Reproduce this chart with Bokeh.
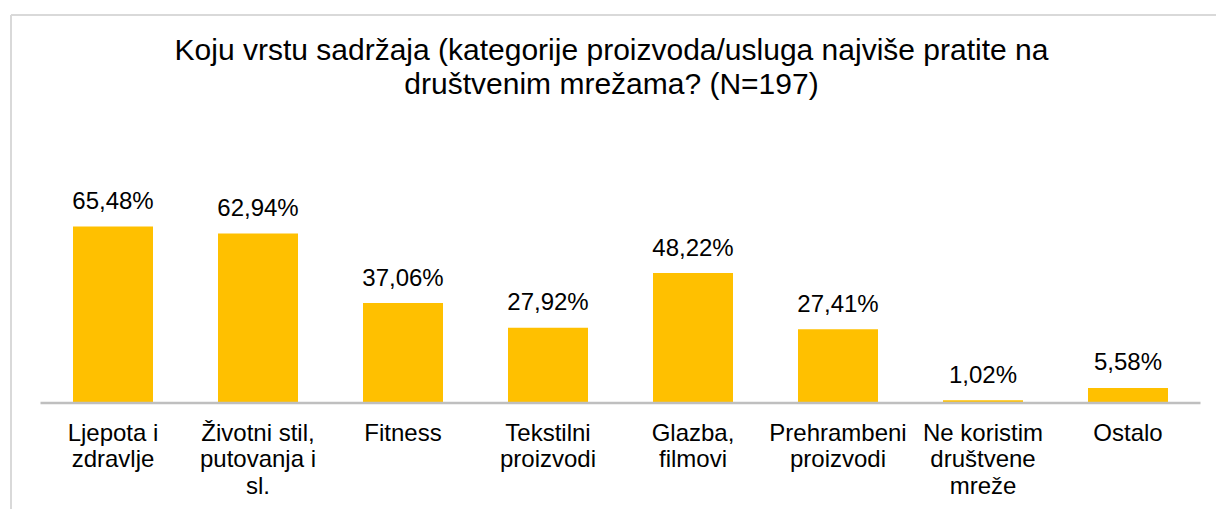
from bokeh.plotting import figure
from bokeh.models import ColumnDataSource, Range1d, Label
from bokeh.core.properties import value
from bokeh.embed import file_html
from bokeh.resources import INLINE

categories = ["Ljepota i\nzdravlje", "Životni stil,\nputovanja i\nsl.", "Fitness",
              "Tekstilni\nproizvodi", "Glazba,\nfilmovi", "Prehrambeni\nproizvodi",
              "Ne koristim\ndruštvene\nmreže", "Ostalo"]
values = [65.48, 62.94, 37.06, 27.92, 48.22, 27.41, 1.02, 5.58]
value_labels = ["65,48%", "62,94%", "37,06%", "27,92%", "48,22%", "27,41%", "1,02%", "5,58%"]
title_lines = ["Koju vrstu sadržaja (kategorije proizvoda/usluga najviše pratite na",
               "društvenim mrežama? (N=197)"]

FONT = "Liberation Sans"
BAR = "#FFC000"
W, H = 1216, 509

# layout mapping: pixel of category-axis origin and scale
X0_PX, X_SCALE = 40.0, 145.0
Y0_PX, Y_SCALE = 402.5, 2.695


def dx(px):
    return (px - X0_PX) / X_SCALE


def dy(py):
    return (Y0_PX - py) / Y_SCALE


p = figure(width=W, height=H, output_backend="svg", toolbar_location=None,
           x_range=Range1d(dx(0), dx(W)), y_range=Range1d(dy(H), dy(0)),
           min_border_left=0, min_border_right=0, min_border_top=0, min_border_bottom=0)
p.axis.visible = False
p.grid.visible = False
p.outline_line_color = None
p.background_fill_color = "white"
p.border_fill_color = "white"

xs = [i + 0.5 for i in range(len(categories))]
src = ColumnDataSource(dict(x=xs, top=values, lab=value_labels))

# chart border (only left and top edges fall inside the window)
p.segment(x0=[dx(10.5), dx(10.5)], y0=[dy(14.5), dy(14.5)],
          x1=[dx(W + 5), dx(10.5)], y1=[dy(14.5), dy(H + 5)],
          line_color="#d9d9d9", line_width=2)

p.vbar(x="x", top="top", bottom=0, width=80 / X_SCALE, source=src,
       fill_color=BAR, line_color=None)

# category axis line
p.segment(x0=[0], y0=[0], x1=[len(categories)], y1=[0],
          line_color="#bfbfbf", line_width=2.5)

p.text(x="x", y="top", text="lab", source=src, text_align="center",
       text_baseline="alphabetic", y_offset=-26,
       text_font=value(FONT), text_font_size="24px", text_color="#000000")

# category labels, one row per line
cx, cy, ct, co = [], [], [], []
for i, c in enumerate(categories):
    for k, line in enumerate(c.split("\n")):
        cx.append(xs[i]); cy.append(0); ct.append(line); co.append(29 + 26.7 * k)
p.text(x=cx, y=cy, text=ct, y_offset=co, text_align="center", text_baseline="alphabetic",
       text_font=value(FONT), text_font_size="24px", text_color="#000000")

for k, t in enumerate(title_lines):
    py = 48.5 + 34.5 * k
    p.add_layout(Label(x=dx(611), y=dy(py), text=t, text_align="center",
                       text_baseline="alphabetic", text_font=FONT, text_font_size="30px",
                       text_color="#000000"))

open("out.html", "w").write(file_html(p, INLINE))
